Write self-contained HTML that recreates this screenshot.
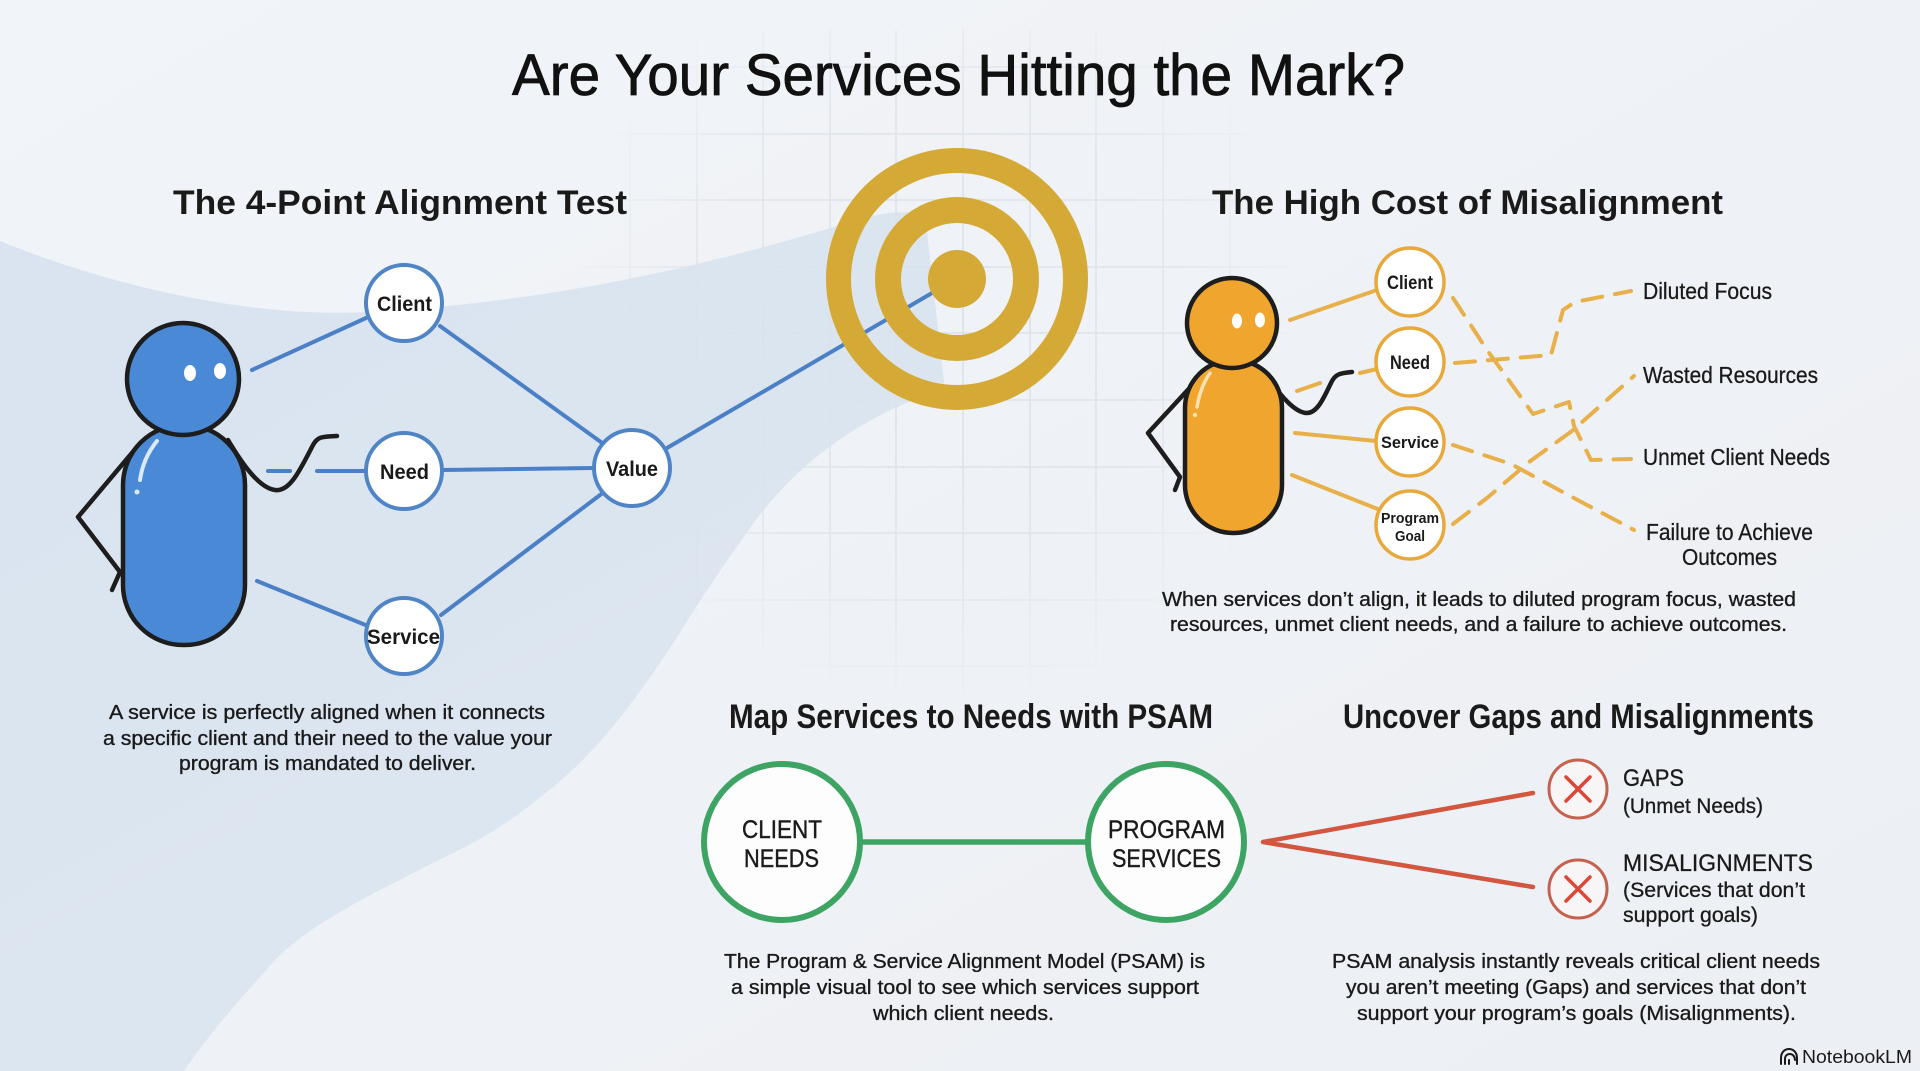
<!DOCTYPE html>
<html><head><meta charset="utf-8"><style>
html,body{margin:0;padding:0;background:#eef2f6;}
svg{display:block;}
text{font-family:"Liberation Sans",sans-serif;fill:#1a1a1a;}
.cap{font-size:20px;stroke:#1a1a1a;stroke-width:0.35px;}
.hd{font-size:34px;font-weight:bold;}
</style></head><body>
<svg width="1920" height="1071" viewBox="0 0 1920 1071" xmlns="http://www.w3.org/2000/svg">
<defs>
<radialGradient id="gm" cx="935" cy="330" r="380" gradientUnits="userSpaceOnUse">
<stop offset="0" stop-color="#fff"/><stop offset="0.6" stop-color="#fff" stop-opacity="0.75"/><stop offset="1" stop-color="#fff" stop-opacity="0"/>
</radialGradient>
<mask id="gridmask"><rect x="0" y="0" width="1920" height="1071" fill="url(#gm)"/></mask>
<linearGradient id="bg" x1="0" y1="0" x2="1" y2="1">
<stop offset="0" stop-color="#f1f4f8"/><stop offset="1" stop-color="#eceff3"/>
</linearGradient>
<linearGradient id="sw" x1="0" y1="0" x2="0.6" y2="1">
<stop offset="0" stop-color="#d9e4f0"/><stop offset="1" stop-color="#dde6f0"/>
</linearGradient>
</defs>
<rect width="1920" height="1071" fill="url(#bg)"/>
<!-- swoosh -->
<path d="M0,241 C120,290 260,318 367,312 C560,302 720,262 850,222 C880,212 905,210 925,215 L945,390 C870,410 800,460 755,521 C720,570 700,600 681,631 C630,710 590,760 539,798 C500,830 470,845 429,865 C360,900 300,930 269,967 C230,1010 205,1040 184,1071 L0,1071 Z" fill="url(#sw)"/>
<!-- grid -->
<g mask="url(#gridmask)" stroke="#dce2e9" stroke-width="1.8">
<line x1="630" y1="30" x2="630" y2="700"/><line x1="697" y1="30" x2="697" y2="700"/><line x1="763" y1="30" x2="763" y2="700"/><line x1="830" y1="30" x2="830" y2="700"/><line x1="896" y1="30" x2="896" y2="700"/><line x1="963" y1="30" x2="963" y2="700"/><line x1="1030" y1="30" x2="1030" y2="700"/><line x1="1096" y1="30" x2="1096" y2="700"/><line x1="1163" y1="30" x2="1163" y2="700"/><line x1="1230" y1="30" x2="1230" y2="700"/>
<line x1="580" y1="67" x2="1290" y2="67"/><line x1="580" y1="134" x2="1290" y2="134"/><line x1="580" y1="200" x2="1290" y2="200"/><line x1="580" y1="267" x2="1290" y2="267"/><line x1="580" y1="333" x2="1290" y2="333"/><line x1="580" y1="400" x2="1290" y2="400"/><line x1="580" y1="467" x2="1290" y2="467"/><line x1="580" y1="533" x2="1290" y2="533"/><line x1="580" y1="600" x2="1290" y2="600"/><line x1="580" y1="666" x2="1290" y2="666"/>
</g>

<!-- Title -->
<text x="512" y="95" font-size="58" textLength="893" lengthAdjust="spacingAndGlyphs" style="stroke:#111;stroke-width:0.8px;fill:#111">Are Your Services Hitting the Mark?</text>

<!-- headings -->
<text class="hd" x="173" y="214" textLength="454" lengthAdjust="spacingAndGlyphs">The 4-Point Alignment Test</text>
<text class="hd" x="1212" y="214" textLength="511" lengthAdjust="spacingAndGlyphs">The High Cost of Misalignment</text>
<text class="hd" x="729" y="728" font-size="33" textLength="484" lengthAdjust="spacingAndGlyphs">Map Services to Needs with PSAM</text>
<text class="hd" x="1343" y="728" font-size="33" textLength="471" lengthAdjust="spacingAndGlyphs">Uncover Gaps and Misalignments</text>

<!-- Blue connectors -->
<g stroke="#4b80c6" stroke-width="4" stroke-linecap="round" fill="none">
<line x1="252" y1="370" x2="366" y2="318"/>
<line x1="268" y1="471" x2="290" y2="471"/>
<line x1="317" y1="471" x2="366" y2="471"/>
<line x1="257" y1="581" x2="368" y2="626"/>
<line x1="440" y1="326" x2="605" y2="445"/>
<line x1="442" y1="470" x2="594" y2="468"/>
<line x1="441" y1="615" x2="604" y2="492"/>
<line x1="667" y1="448" x2="932" y2="293"/>
</g>

<!-- Target -->
<g fill="none" stroke="#d5a936">
<circle cx="957" cy="279" r="118.5" stroke-width="25"/>
<circle cx="957" cy="279" r="69" stroke-width="26"/>
</g>
<circle cx="957" cy="279" r="29" fill="#d5a936"/>

<!-- Blue nodes -->
<g fill="#ffffff" stroke="#4f84c5" stroke-width="4">
<circle cx="404" cy="303" r="38"/>
<circle cx="404" cy="471" r="38"/>
<circle cx="404" cy="636" r="38"/>
<circle cx="632" cy="468" r="38"/>
</g>
<g font-size="21" font-weight="bold">
<text x="377" y="311" textLength="55" lengthAdjust="spacingAndGlyphs">Client</text>
<text x="380" y="479" textLength="49" lengthAdjust="spacingAndGlyphs">Need</text>
<text x="367" y="644" textLength="73" lengthAdjust="spacingAndGlyphs">Service</text>
<text x="606" y="476" textLength="52" lengthAdjust="spacingAndGlyphs">Value</text>
</g>

<!-- Blue person -->
<g stroke="#1d1d1d" stroke-width="4.5" stroke-linecap="round" stroke-linejoin="round" fill="none">
<path d="M137,447 L78,517 L120,572 L112,590"/>
<path d="M228,440 C240,460 258,488 275,490 C290,492 300,470 313,445 C318,436 322,437 337,436"/>
</g>
<rect x="123" y="425" width="122" height="220" rx="60" fill="#4a89d5" stroke="#1d1d1d" stroke-width="4.5"/>
<circle cx="183" cy="379" r="56" fill="#4a89d5" stroke="#1d1d1d" stroke-width="4.5"/>
<ellipse cx="190" cy="373" rx="6" ry="8" fill="#fff"/>
<ellipse cx="220" cy="371" rx="6" ry="8" fill="#fff"/>
<path d="M157,441 C148,452 142,466 140,480" stroke="#dbe9fa" stroke-width="4" fill="none" stroke-linecap="round"/>
<circle cx="137" cy="492" r="2.5" fill="#dbe9fa"/>

<!-- Left caption -->
<text class="cap" x="109" y="719" textLength="436" lengthAdjust="spacingAndGlyphs">A service is perfectly aligned when it connects</text>
<text class="cap" x="103" y="745" textLength="449" lengthAdjust="spacingAndGlyphs">a specific client and their need to the value your</text>
<text class="cap" x="179" y="770" textLength="297" lengthAdjust="spacingAndGlyphs">program is mandated to deliver.</text>

<!-- Orange connectors -->
<g stroke="#e8b04a" stroke-width="4" stroke-linecap="round" fill="none">
<line x1="1290" y1="320" x2="1377" y2="290"/>
<line x1="1297" y1="391" x2="1320" y2="383"/>
<line x1="1360" y1="373" x2="1377" y2="369"/>
<line x1="1295" y1="433" x2="1376" y2="441"/>
<line x1="1292" y1="475" x2="1380" y2="510"/>
</g>
<g stroke="#e8b04a" stroke-width="4" stroke-linecap="round" stroke-linejoin="round" fill="none" stroke-dasharray="20 13">
<path d="M1453,298 L1487,350 L1500,368 L1533,414 L1569,402 L1574,426 L1591,460 L1631,459"/>
<path d="M1455,363 L1551,355 L1563,310 L1575,302 L1631,291"/>
<path d="M1453,445 L1511,464 L1572,497 L1634,530"/>
<path d="M1453,524 L1487,498 L1529,462 L1572,431 L1634,376"/>
</g>

<!-- Orange nodes -->
<g fill="#ffffff" stroke="#e8a93c" stroke-width="3.5">
<circle cx="1410" cy="282" r="34"/>
<circle cx="1410" cy="362" r="34"/>
<circle cx="1410" cy="442" r="34"/>
<circle cx="1410" cy="525" r="34"/>
</g>
<g font-weight="bold">
<text x="1387" y="289" font-size="19" textLength="46" lengthAdjust="spacingAndGlyphs">Client</text>
<text x="1390" y="369" font-size="19" textLength="40" lengthAdjust="spacingAndGlyphs">Need</text>
<text x="1381" y="448" font-size="17" textLength="58" lengthAdjust="spacingAndGlyphs">Service</text>
<text x="1381" y="523" font-size="15" textLength="58" lengthAdjust="spacingAndGlyphs">Program</text>
<text x="1395" y="541" font-size="15" textLength="30" lengthAdjust="spacingAndGlyphs">Goal</text>
</g>

<!-- Orange person -->
<g stroke="#1d1d1d" stroke-width="4.5" stroke-linecap="round" stroke-linejoin="round" fill="none">
<path d="M1197,380 L1148,433 L1180,477 L1175,490"/>
<path d="M1270,380 C1280,395 1295,413 1307,413 C1318,413 1325,395 1331,383 C1335,374 1340,373 1352,372"/>
</g>
<rect x="1185" y="360" width="97" height="173" rx="48" fill="#f0a52e" stroke="#1d1d1d" stroke-width="4.5"/>
<circle cx="1232" cy="323" r="45" fill="#f0a52e" stroke="#1d1d1d" stroke-width="4.5"/>
<ellipse cx="1237" cy="321" rx="5" ry="7.5" fill="#fff"/>
<ellipse cx="1260" cy="320" rx="5" ry="7.5" fill="#fff"/>
<path d="M1210,373 C1203,383 1199,395 1197,407" stroke="#fbe2b4" stroke-width="3.5" fill="none" stroke-linecap="round"/>
<circle cx="1195" cy="415" r="2.2" fill="#fbe2b4"/>

<!-- Right labels -->
<g style="font-size:23px;stroke:#1a1a1a;stroke-width:0.3px">
<text x="1643" y="299" textLength="129" lengthAdjust="spacingAndGlyphs">Diluted Focus</text>
<text x="1643" y="383" textLength="175" lengthAdjust="spacingAndGlyphs">Wasted Resources</text>
<text x="1643" y="465" textLength="187" lengthAdjust="spacingAndGlyphs">Unmet Client Needs</text>
<text x="1646" y="540" textLength="167" lengthAdjust="spacingAndGlyphs">Failure to Achieve</text>
<text x="1682" y="565" textLength="95" lengthAdjust="spacingAndGlyphs">Outcomes</text>
</g>

<!-- Right caption -->
<text class="cap" x="1162" y="606" textLength="634" lengthAdjust="spacingAndGlyphs">When services don’t align, it leads to diluted program focus, wasted</text>
<text class="cap" x="1170" y="631" textLength="617" lengthAdjust="spacingAndGlyphs">resources, unmet client needs, and a failure to achieve outcomes.</text>

<!-- PSAM -->
<line x1="862" y1="842" x2="1086" y2="842" stroke="#3ea464" stroke-width="5.5"/>
<circle cx="782" cy="842" r="78" fill="#fdfdfd" stroke="#3ea464" stroke-width="6"/>
<circle cx="1166" cy="842" r="78" fill="#fdfdfd" stroke="#3ea464" stroke-width="6"/>
<g style="font-size:25px;stroke:#1a1a1a;stroke-width:0.4px">
<text x="742" y="838" textLength="80" lengthAdjust="spacingAndGlyphs">CLIENT</text>
<text x="744" y="867" textLength="75" lengthAdjust="spacingAndGlyphs">NEEDS</text>
<text x="1108" y="838" textLength="117" lengthAdjust="spacingAndGlyphs">PROGRAM</text>
<text x="1112" y="867" textLength="109" lengthAdjust="spacingAndGlyphs">SERVICES</text>
</g>
<text class="cap" x="724" y="968" textLength="481" lengthAdjust="spacingAndGlyphs">The Program &amp; Service Alignment Model (PSAM) is</text>
<text class="cap" x="731" y="994" textLength="468" lengthAdjust="spacingAndGlyphs">a simple visual tool to see which services support</text>
<text class="cap" x="873" y="1020" textLength="181" lengthAdjust="spacingAndGlyphs">which client needs.</text>

<!-- Gaps -->
<path d="M1533,793 L1263,842 L1533,887" stroke="#d3573f" stroke-width="4.5" fill="none" stroke-linejoin="round" stroke-linecap="round"/>
<g fill="#f7f5f5" stroke="#c5614f" stroke-width="3">
<circle cx="1578" cy="789" r="29"/>
<circle cx="1578" cy="889" r="29"/>
</g>
<g stroke="#dd4737" stroke-width="3.5" stroke-linecap="round">
<line x1="1566" y1="777" x2="1590" y2="801"/><line x1="1590" y1="777" x2="1566" y2="801"/>
<line x1="1566" y1="877" x2="1590" y2="901"/><line x1="1590" y1="877" x2="1566" y2="901"/>
</g>
<g style="stroke:#1a1a1a;stroke-width:0.3px">
<text x="1623" y="786" font-size="24" textLength="61" lengthAdjust="spacingAndGlyphs">GAPS</text>
<text x="1623" y="813" font-size="21" textLength="140" lengthAdjust="spacingAndGlyphs">(Unmet Needs)</text>
<text x="1623" y="871" font-size="24" textLength="190" lengthAdjust="spacingAndGlyphs">MISALIGNMENTS</text>
<text x="1623" y="897" font-size="21" textLength="182" lengthAdjust="spacingAndGlyphs">(Services that don’t</text>
<text x="1623" y="922" font-size="21" textLength="135" lengthAdjust="spacingAndGlyphs">support goals)</text>
</g>
<text class="cap" x="1332" y="968" textLength="488" lengthAdjust="spacingAndGlyphs">PSAM analysis instantly reveals critical client needs</text>
<text class="cap" x="1346" y="994" textLength="460" lengthAdjust="spacingAndGlyphs">you aren’t meeting (Gaps) and services that don’t</text>
<text class="cap" x="1357" y="1020" textLength="439" lengthAdjust="spacingAndGlyphs">support your program’s goals (Misalignments).</text>

<!-- NotebookLM -->
<g stroke="#1a1a1a" stroke-width="2" fill="none" stroke-linecap="round">
<path d="M1781,1064 L1781,1058 C1781,1052 1785,1049 1789,1049 C1793,1049 1797,1052 1797,1058 L1797,1064"/>
<path d="M1785,1064 L1785,1059 C1785,1056 1787,1054 1790,1054 C1793,1054 1795,1057 1795,1060"/>
<path d="M1789,1064 L1789,1060"/>
</g>
<text x="1802" y="1063" font-size="18" textLength="110" lengthAdjust="spacingAndGlyphs">NotebookLM</text>
</svg>
</body></html>
